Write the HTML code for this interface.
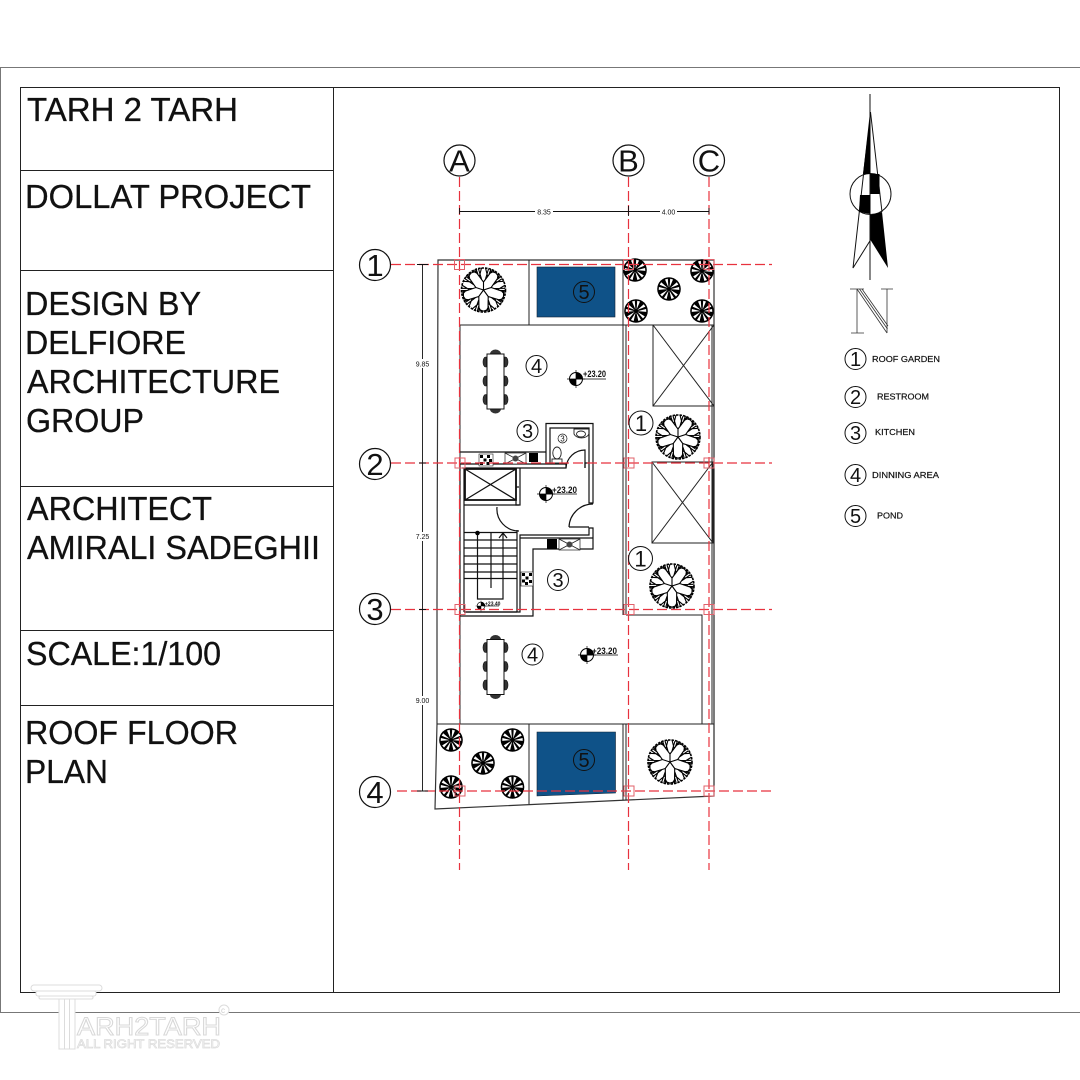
<!DOCTYPE html>
<html><head><meta charset="utf-8"><title>Roof Floor Plan</title>
<style>html,body{margin:0;padding:0;background:#fff}svg{display:block}text{font-family:"Liberation Sans",sans-serif;fill:#111}</style></head>
<body>
<svg xmlns="http://www.w3.org/2000/svg" width="1080" height="1080" viewBox="0 0 1080 1080">
<defs>
<g id="br" fill="none" stroke="#000" stroke-width="1.100">
<path d="M0 0L0-8L-9-20M0-8L9-20M-4-14L-2-22M4-14L2-22M-7-17L-11-19M7-17L11-19M-2-11L-5-21M2-11L5-21M-5.500-15.500L-7.500-21M5.500-15.500L7.500-21M-8-18.500L-12.500-17M8-18.500L12.500-17"/>
</g>
<g id="tree" fill="none" stroke="#000">
<circle r="22" stroke-width="1.600" stroke-dasharray="2.500 1"/>
<use href="#br"/><use href="#br" transform="rotate(72)"/><use href="#br" transform="rotate(144)"/><use href="#br" transform="rotate(216)"/><use href="#br" transform="rotate(288)"/>
</g>
<path id="sl" fill="#fff" d="M-.6-1.500L-4-9.500L-1.200-10.200zM.6-1.500L4-9.500L1.200-10.200z"/>
<g id="sm">
<circle r="11.800" fill="#000"/>
<use href="#sl"/><use href="#sl" transform="rotate(72)"/><use href="#sl" transform="rotate(144)"/><use href="#sl" transform="rotate(216)"/><use href="#sl" transform="rotate(288)"/>
</g>
<g id="chairL"><path d="M-3 -5H-4A2.500 5 0 0 0 -4 5H-3z" fill="#333" stroke="#111" stroke-width=".6"/></g>
<g id="table">
<path d="M-5.500 0a5.500 4.500 0 0 1 11 0zM-5.500 55a5.500 4.500 0 0 0 11 0z" fill="#333"/>
<g transform="translate(-6 0)"><use href="#chairL" y="8"/><use href="#chairL" y="27"/><use href="#chairL" y="45.500"/></g>
<g transform="translate(6 0) scale(-1 1)"><use href="#chairL" y="8"/><use href="#chairL" y="27"/><use href="#chairL" y="45.500"/></g>
<rect x="-8.500" y="0" width="17" height="55" fill="#fff" stroke="#111" stroke-width="1"/>
</g>
<g id="mark">
<circle r="6.500" fill="#fff" stroke="#000"/>
<path d="M0 0V-6.500A6.500 6.500 0 0 1 6.500 0zM0 0V6.500A6.500 6.500 0 0 1-6.500 0z" fill="#000"/>
<path d="M-9 0H9M0-9V9" stroke="#000" stroke-width=".7"/>
</g>
<g id="check">
<rect width="14" height="12" fill="#fff" stroke="#222" stroke-width=".6"/>
<path d="M1 1h3v3h-3zM8 1h3v3h-3zM4.500 4.500h3v3h-3zM10 5h3v3h-3zM1 8h3v3h-3zM7.500 8h3v3h-3z" fill="#000"/>
</g>
<g id="hob">
<rect width="21" height="11" fill="#fff" stroke="#222" stroke-width=".7"/>
<path d="M0 0L21 11M0 11L21 0" stroke="#222" stroke-width=".8"/>
<circle cx="10.500" cy="5.500" r="3" fill="#444"/>
</g>
</defs>

<!-- frames -->
<rect x=".5" y="67.500" width="1090" height="945" fill="none" stroke="#777" stroke-width="1"/>
<rect x="20.500" y="87.500" width="1039" height="905" fill="none" stroke="#222" stroke-width="1"/>
<path d="M333.500 87V993M20 170.500H333M20 270.500H333M20 486.500H333M20 630.500H333M20 705.500H333" stroke="#222" stroke-width="1" fill="none"/>

<!-- sidebar text -->
<g font-size="33" stroke="#111" stroke-width=".3">
<text x="27" y="121" textLength="211" lengthAdjust="spacingAndGlyphs">TARH 2 TARH</text>
<text x="25" y="208" textLength="286" lengthAdjust="spacingAndGlyphs">DOLLAT PROJECT</text>
<text x="25" y="315" textLength="176" lengthAdjust="spacingAndGlyphs">DESIGN BY</text>
<text x="25" y="354" textLength="161" lengthAdjust="spacingAndGlyphs">DELFIORE</text>
<text x="27" y="393" textLength="253" lengthAdjust="spacingAndGlyphs">ARCHITECTURE</text>
<text x="26" y="432" textLength="118" lengthAdjust="spacingAndGlyphs">GROUP</text>
<text x="27" y="520" textLength="185" lengthAdjust="spacingAndGlyphs">ARCHITECT</text>
<text x="27" y="559" textLength="293" lengthAdjust="spacingAndGlyphs">AMIRALI SADEGHII</text>
<text x="26" y="665" textLength="195" lengthAdjust="spacingAndGlyphs">SCALE:1/100</text>
<text x="25" y="744" textLength="213" lengthAdjust="spacingAndGlyphs">ROOF FLOOR</text>
<text x="25" y="783" textLength="83" lengthAdjust="spacingAndGlyphs">PLAN</text>
</g>

<!-- ponds -->
<rect x="537" y="267" width="78" height="50" fill="#0f5288" stroke="#123" stroke-width=".6"/>
<path d="M537 732H615.500V793L537 796z" fill="#0f5288" stroke="#123" stroke-width=".6"/>

<!-- plan walls -->
<g fill="none" stroke="#222" stroke-width="1">
<path d="M438 260H714V796L435 809L437 724V600L438 260z" stroke="#333" stroke-width="1.200"/>
<path d="M460 325H714M529 260V325M623 260V615M626 325V615M437 724H714M529 724V804M623 724V800M626 724V800M460 325V724M626 615H702V724M714 325V796M712 325V724"/>
<rect x="653" y="325" width="61" height="81"/>
<path d="M653 325L714 406M714 325L653 406"/>
<rect x="652" y="462" width="61" height="81"/>
<path d="M652 462L713 543M713 462L652 543"/>
</g>

<!-- core -->
<g fill="none" stroke="#111" stroke-width="1.200">
<path d="M460 452H546V423.500H593V503H589V428H550V463M546 452V463"/>
<path d="M460 464H566V468H462M585 468V463H589"/>
<rect x="465" y="469" width="51" height="31" stroke="#111" stroke-width="1.800"/>
<path d="M465 469L516 500M516 469L465 500"/>
<path d="M516 468V505H520V468M519 487H516"/>
<path d="M464 505H519M460 464V616H533V549H593V528H589V535H520V612H464M464 468V612"/>
<path d="M517 530V612M464 612H517"/>
<path d="M520 538H593"/>
<path d="M566 468A19 19 0 0 1 585 450V468"/>
<path d="M497 507A22 22 0 0 0 519 531"/>
<path d="M569 527A24 24 0 0 1 593 504M569 527H589"/>
<path d="M464 532.500H517M464 540H517M464 548H517M464 556H517M464 564H517M464 572H517M464 578.500H517"/>
<path d="M477.500 532V599H503V533M491 532V588M499 538L503 533L507 538"/>
</g>
<circle cx="477.500" cy="533" r="2.300" fill="#000"/>
<use href="#check" x="479" y="454"/>
<use href="#hob" x="505" y="453"/>
<rect x="529" y="453" width="9" height="9" fill="#000"/>
<rect x="547" y="539" width="10" height="10" fill="#000"/>
<use href="#hob" x="559" y="539"/>
<use href="#check" x="520" y="573" transform="rotate(90 527 579)"/>
<!-- toilet + sink -->
<g fill="none" stroke="#222" stroke-width=".9">
<ellipse cx="557" cy="453" rx="4.200" ry="6"/><rect x="552" y="459" width="10" height="4"/>
<path d="M574 429H589V434A8 6 0 0 1 574 434z"/><ellipse cx="581" cy="434" rx="4.500" ry="3"/>
</g>

<use href="#table" x="495.500" y="354"/>
<use href="#table" x="495.500" y="639.500"/>

<!-- elevation markers -->
<use href="#mark" x="576" y="379"/>
<path d="M576 379H606" stroke="#000" stroke-width=".8"/>
<text x="583" y="377" font-size="9" font-weight="bold" textLength="23" lengthAdjust="spacingAndGlyphs">+23.20</text>
<use href="#mark" x="546" y="494"/>
<path d="M546 494H577" stroke="#000" stroke-width=".8"/>
<text x="552" y="493" font-size="9" font-weight="bold" textLength="25" lengthAdjust="spacingAndGlyphs">+23.20</text>
<use href="#mark" x="587" y="655"/>
<path d="M587 655H618" stroke="#000" stroke-width=".8"/>
<text x="592" y="654" font-size="9" font-weight="bold" textLength="25" lengthAdjust="spacingAndGlyphs">+23.20</text>
<use href="#mark" transform="translate(481 606) scale(.6)"/>
<path d="M483 606H499" stroke="#000" stroke-width=".6"/>
<text x="485" y="605.500" font-size="5" font-weight="bold">+23.40</text>

<!-- trees -->
<use href="#tree" transform="translate(483.500 290)"/>
<use href="#tree" transform="translate(678 437)"/>
<use href="#tree" transform="translate(672 586)"/>
<use href="#tree" transform="translate(670 762)"/>
<use href="#sm" x="635" y="270"/><use href="#sm" x="669" y="289"/><use href="#sm" x="702" y="271"/><use href="#sm" x="636" y="311"/><use href="#sm" x="702" y="311"/>
<use href="#sm" x="451" y="740"/><use href="#sm" x="512.500" y="740"/><use href="#sm" x="483" y="763"/><use href="#sm" x="451" y="787"/><use href="#sm" x="512.500" y="787"/>

<!-- grid -->
<g fill="none" stroke="#e8323e" stroke-width="1.200" stroke-dasharray="10 4">
<path d="M459.500 177V870M628.500 177V870M709 177V870"/>
<path d="M391 264.500H772M391 463H772M391 609.500H772M397 791H772"/>
</g>
<g fill="none" stroke="#e0606a" stroke-width="1">
<rect x="454.500" y="259.500" width="10" height="10"/><rect x="623.500" y="259.500" width="10" height="10"/><rect x="704" y="259.500" width="10" height="10"/>
<rect x="455" y="458" width="10" height="10"/><rect x="624" y="458" width="10" height="10"/><rect x="704" y="458" width="10" height="10"/>
<rect x="455" y="604.500" width="10" height="10"/><rect x="624" y="604.500" width="10" height="10"/><rect x="704" y="604.500" width="10" height="10"/>
<rect x="455" y="786" width="10" height="10"/><rect x="624" y="786" width="10" height="10"/><rect x="704" y="786" width="10" height="10"/>
</g>

<!-- dimensions -->
<path d="M459.500 211.500H709M628.500 206V216M459.500 208V214M709 208V214M422.500 264.500V791M417 264.500H428M417 791H428M419 463H426M419 609.500H426" stroke="#111" stroke-width=".9" fill="none"/>
<g font-size="7" text-anchor="middle">
<rect x="535" y="207" width="18" height="9" fill="#fff"/><text x="544" y="214.500">8.35</text>
<rect x="660" y="207" width="17" height="9" fill="#fff"/><text x="668.500" y="214.500">4.00</text>
<rect x="414" y="359" width="17" height="9" fill="#fff"/><text x="422.500" y="366.500">9.85</text>
<rect x="414" y="532" width="17" height="9" fill="#fff"/><text x="422.500" y="539">7.25</text>
<rect x="414" y="696" width="17" height="9" fill="#fff"/><text x="422.500" y="703">9.00</text>
</g>

<!-- grid bubbles -->
<g fill="#fff" stroke="#111" stroke-width="1.200">
<circle cx="459.500" cy="160.500" r="15.500"/><circle cx="628.500" cy="160.500" r="15.500"/><circle cx="709" cy="160.500" r="15.500"/>
<circle cx="375" cy="265" r="15.500"/><circle cx="375" cy="464" r="15.500"/><circle cx="375" cy="609" r="15.500"/><circle cx="375" cy="792" r="15.500"/>
</g>
<g font-size="31" text-anchor="middle">
<text x="459.500" y="171.500">A</text><text x="628.500" y="171.500">B</text><text x="709" y="171.500">C</text>
<text x="375" y="276">1</text><text x="375" y="475">2</text><text x="375" y="620">3</text><text x="375" y="803">4</text>
</g>

<!-- room labels -->
<g fill="none" stroke="#111" stroke-width="1">
<circle cx="536.500" cy="366" r="10.500"/><circle cx="527.500" cy="431" r="10.500"/><circle cx="641" cy="423" r="12"/><circle cx="640.500" cy="558.500" r="12"/>
<circle cx="558" cy="580" r="10.500"/><circle cx="532.500" cy="654.500" r="10.500"/><circle cx="584" cy="292" r="10.500"/><circle cx="584" cy="760" r="10.500"/><circle cx="562.500" cy="438.500" r="4.500" stroke-width=".7"/>
</g>
<g font-size="20" text-anchor="middle">
<text x="536.500" y="373">4</text><text x="527.500" y="438">3</text>
<text x="641" y="431" font-size="22">1</text><text x="640.500" y="566.500" font-size="22">1</text>
<text x="558" y="587">3</text><text x="532.500" y="661.500">4</text>
<text x="584" y="299">5</text><text x="584" y="767">5</text>
<text x="562.500" y="441.500" font-size="8">3</text>
</g>

<!-- north arrow -->
<g stroke="#111" fill="none" stroke-width="1">
<path d="M870 94V280"/>
<circle cx="870.500" cy="194" r="20.500"/>
<path d="M870.500 112L853 268L870.500 240"/>
<path d="M870.500 112L882 212"/>
</g>
<g fill="#000">
<path d="M870.500 112L863 174H870.500z"/>
<rect x="870.500" y="174" width="9" height="20"/>
<path d="M860 195H870.500V214L859 212z"/>
<path d="M870.500 215L882 212L888 268L870.500 240z"/>
</g>
<!-- N symbol -->
<g stroke="#333" fill="none" stroke-width=".8">
<path d="M850 289H864M881 289H893M851 333H864M857 289V333M887 289V333"/>
<path d="M857 289L887 333M859.500 289L887.500 329M862 289L888 326"/>
</g>

<!-- legend -->
<g fill="none" stroke="#111" stroke-width="1">
<circle cx="855.500" cy="359" r="10.500"/><circle cx="855.500" cy="397" r="10.500"/><circle cx="855.500" cy="433" r="10.500"/><circle cx="855.500" cy="475" r="10.500"/><circle cx="855.500" cy="516" r="10.500"/>
</g>
<g font-size="20" text-anchor="middle">
<text x="855.500" y="366">1</text><text x="855.500" y="404">2</text><text x="855.500" y="440">3</text><text x="855.500" y="482">4</text><text x="855.500" y="523">5</text>
</g>
<g font-size="8.500" stroke="#111" stroke-width=".2">
<text x="872" y="362" textLength="68" lengthAdjust="spacingAndGlyphs">ROOF GARDEN</text>
<text x="877" y="399.500" textLength="52" lengthAdjust="spacingAndGlyphs">RESTROOM</text>
<text x="875" y="435" textLength="40" lengthAdjust="spacingAndGlyphs">KITCHEN</text>
<text x="872" y="478" textLength="67" lengthAdjust="spacingAndGlyphs">DINNING AREA</text>
<text x="877" y="518.500" textLength="26" lengthAdjust="spacingAndGlyphs">POND</text>
</g>

<!-- watermark -->
<g fill="#fff" stroke="#dcdcdc" stroke-width="1">
<rect x="31" y="985" width="71" height="6" rx="3"/>
<rect x="36" y="991" width="60" height="5" rx="2"/>
<rect x="39" y="996" width="54" height="3" rx="1.500"/>
<path d="M59 999H75V1049H59z"/>
<path d="M64.500 999V1049M69.500 999V1049"/>
<circle cx="224" cy="1010" r="5"/>
</g>
<g>
<text x="77" y="1035" font-size="25" stroke="#d8d8d8" stroke-width="1" style="fill:#fff" textLength="144" lengthAdjust="spacingAndGlyphs">ARH2TARH</text>
<text x="77" y="1048" font-size="11.500" stroke="#dcdcdc" stroke-width=".7" style="fill:#fff" textLength="143" lengthAdjust="spacingAndGlyphs">ALL RIGHT RESERVED</text>
<text x="221" y="1013" font-size="8" style="fill:#ccc">c</text>
</g>
</svg>
</body></html>
